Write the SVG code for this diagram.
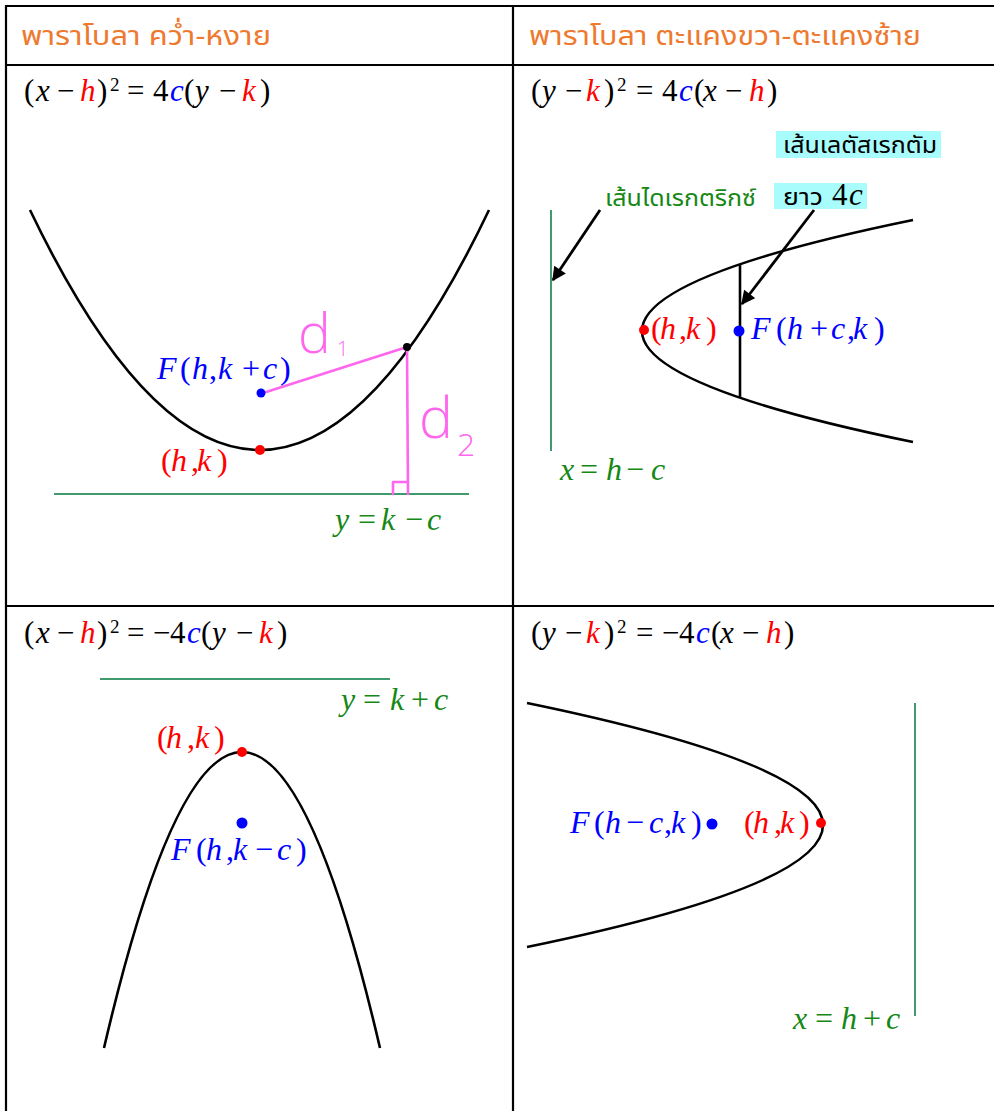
<svg xmlns="http://www.w3.org/2000/svg" width="994" height="1111" viewBox="0 0 994 1111">
<style>
.grid{stroke:#000;stroke-width:2.2;fill:none}
.curve{stroke:#000;stroke-width:2.6;fill:none}
.dir{stroke:#3f9b6d;stroke-width:2;fill:none}
.pk{stroke:#ff66ee;stroke-width:2.6;fill:none;stroke-linecap:round;stroke-linejoin:round}
.m{font-family:"Liberation Serif","Times New Roman",serif;font-size:31px;fill:#000}
.lbl{font-family:"Liberation Serif","Times New Roman",serif;font-size:32px}
.sup{font-size:19px}
.i{font-style:italic}
.r{fill:#ff0000}
.b{fill:#0000ff}
.g{fill:#168816}
.th{font-family:"Noto Sans Thai","Noto Sans Thai Looped","Noto Sans","DejaVu Sans",sans-serif}
.hd{font-size:27px;fill:#ee7a30}
.hw{font-family:"Open Sans","Lato","Liberation Sans",sans-serif;font-weight:300;fill:#ff66ee}
.arr{stroke:#000;stroke-width:2.8;fill:none}
</style>
<defs>
<marker id="ah" viewBox="0 0 10 10" refX="9" refY="5" markerWidth="5.5" markerHeight="5" orient="auto" markerUnits="strokeWidth">
<path d="M0,0 L10,5 L0,10 z" fill="#000"/>
</marker>
</defs>
<rect width="994" height="1111" fill="#fff"/>

<g id="table">
<line class="grid" x1="5" y1="6" x2="994" y2="6"/>
<line class="grid" x1="5" y1="65" x2="994" y2="65"/>
<line class="grid" x1="5" y1="606" x2="994" y2="606"/>
<line class="grid" x1="6" y1="5" x2="6" y2="1111"/>
<line class="grid" x1="513" y1="5" x2="513" y2="1111"/>
<text class="th hd" x="21" y="45" textLength="250" lengthAdjust="spacingAndGlyphs">พาราโบลา คว่ำ-หงาย</text>
<text class="th hd" x="529" y="45" textLength="392" lengthAdjust="spacingAndGlyphs">พาราโบลา ตะแคงขวา-ตะแคงซ้าย</text>
</g>

<g id="cell-up">
<text class="m" y="101"><tspan x="24">(</tspan><tspan class="i" x="36">x</tspan><tspan x="57">−</tspan><tspan class="i r" x="80">h</tspan><tspan x="97">)</tspan><tspan class="sup" x="110" y="91">2</tspan><tspan x="127" y="101">=</tspan><tspan x="153">4</tspan><tspan class="i b" x="170">c</tspan><tspan x="184">(</tspan><tspan class="i" x="195">y</tspan><tspan x="219">−</tspan><tspan class="i r" x="242">k</tspan><tspan x="260">)</tspan></text>
<path class="curve" d="M30,210 Q260,690 489,210"/>
<line class="dir" x1="54" y1="494" x2="469" y2="494"/>
<path class="pk" d="M263,393 L407,347 L408,494"/>
<path class="pk" d="M393,494 V482 H408"/>
<circle cx="407" cy="347" r="4" fill="#000"/>
<circle cx="261" cy="393" r="4.5" fill="#0000ff"/>
<circle cx="260" cy="450" r="5" fill="#ff0000"/>
<text class="hw" x="298" y="353" font-size="55">d</text>
<text class="hw" x="337" y="356" font-size="20">1</text>
<text class="hw" x="419" y="438" font-size="57">d</text>
<text class="hw" x="457" y="456" font-size="32">2</text>
<text class="lbl b" y="379"><tspan class="i" x="157">F</tspan><tspan x="180">(</tspan><tspan class="i" x="192">h</tspan><tspan x="209">,</tspan><tspan class="i" x="218">k</tspan><tspan x="242">+</tspan><tspan class="i" x="263">c</tspan><tspan x="280">)</tspan></text>
<text class="lbl r" y="471"><tspan x="161">(</tspan><tspan class="i" x="171">h</tspan><tspan x="191">,</tspan><tspan class="i" x="197">k</tspan><tspan x="217">)</tspan></text>
<text class="lbl g" y="530"><tspan class="i" x="335">y</tspan><tspan x="358">=</tspan><tspan class="i" x="381">k</tspan><tspan x="405">−</tspan><tspan class="i" x="427">c</tspan></text>
</g>

<g id="cell-right">
<text class="m" y="101"><tspan x="531">(</tspan><tspan class="i" x="542">y</tspan><tspan x="565">−</tspan><tspan class="i r" x="586">k</tspan><tspan x="604">)</tspan><tspan class="sup" x="617" y="91">2</tspan><tspan x="636" y="101">=</tspan><tspan x="662">4</tspan><tspan class="i b" x="679">c</tspan><tspan x="694">(</tspan><tspan class="i" x="703">x</tspan><tspan x="725">−</tspan><tspan class="i r" x="749">h</tspan><tspan x="767">)</tspan></text>
<rect x="776" y="131" width="165" height="27" fill="#a8fcfc"/>
<text class="th" x="783" y="153" font-size="23" fill="#000" textLength="154" lengthAdjust="spacingAndGlyphs">เส้นเลตัสเรกตัม</text>
<rect x="774" y="183" width="93" height="26" fill="#a8fcfc"/>
<text class="th" x="783" y="205" font-size="23" fill="#000" textLength="40" lengthAdjust="spacingAndGlyphs">ยาว</text>
<text class="m" y="205"><tspan x="832">4</tspan><tspan class="i" x="849">c</tspan></text>
<text class="th g" x="605" y="206" font-size="23" textLength="151" lengthAdjust="spacingAndGlyphs">เส้นไดเรกตริกซ์</text>
<line class="dir" x1="551" y1="210" x2="551" y2="451"/>
<path class="curve" d="M913,220 Q371,331 913,442"/>
<line x1="740" y1="265" x2="740" y2="398" stroke="#000" stroke-width="2.6"/>
<circle cx="644" cy="330" r="5" fill="#ff0000"/>
<circle cx="739" cy="331" r="5.5" fill="#0000ff"/>
<text class="lbl r" y="339"><tspan x="651">(</tspan><tspan class="i" x="660">h</tspan><tspan x="679">,</tspan><tspan class="i" x="686">k</tspan><tspan x="706">)</tspan></text>
<text class="lbl b" y="339"><tspan class="i" x="751">F</tspan><tspan x="776">(</tspan><tspan class="i" x="787">h</tspan><tspan x="810">+</tspan><tspan class="i" x="831">c</tspan><tspan x="847">,</tspan><tspan class="i" x="853">k</tspan><tspan x="874">)</tspan></text>
<text class="lbl g" y="480"><tspan class="i" x="560">x</tspan><tspan x="580">=</tspan><tspan class="i" x="606">h</tspan><tspan x="626">−</tspan><tspan class="i" x="651">c</tspan></text>
</g>

<g id="cell-down">
<text class="m" y="643"><tspan x="24">(</tspan><tspan class="i" x="36">x</tspan><tspan x="57">−</tspan><tspan class="i r" x="80">h</tspan><tspan x="97">)</tspan><tspan class="sup" x="110" y="633">2</tspan><tspan x="127" y="643">=</tspan><tspan x="153">−</tspan><tspan x="170">4</tspan><tspan class="i b" x="187">c</tspan><tspan x="201">(</tspan><tspan class="i" x="212">y</tspan><tspan x="236">−</tspan><tspan class="i r" x="259">k</tspan><tspan x="277">)</tspan></text>
<line class="dir" x1="100" y1="679" x2="390" y2="679"/>
<text class="lbl g" y="710"><tspan class="i" x="341">y</tspan><tspan x="363">=</tspan><tspan class="i" x="390">k</tspan><tspan x="411">+</tspan><tspan class="i" x="434">c</tspan></text>
<path class="curve" d="M104,1048 Q242,456 380,1048"/>
<circle cx="242" cy="752" r="5" fill="#ff0000"/>
<circle cx="242" cy="823" r="5.5" fill="#0000ff"/>
<text class="lbl r" y="748"><tspan x="157">(</tspan><tspan class="i" x="166">h</tspan><tspan x="187">,</tspan><tspan class="i" x="195">k</tspan><tspan x="214">)</tspan></text>
<text class="lbl b" y="860"><tspan class="i" x="171">F</tspan><tspan x="196">(</tspan><tspan class="i" x="206">h</tspan><tspan x="226">,</tspan><tspan class="i" x="233">k</tspan><tspan x="255">−</tspan><tspan class="i" x="277">c</tspan><tspan x="296">)</tspan></text>
</g>

<g id="cell-left">
<text class="m" y="643"><tspan x="531">(</tspan><tspan class="i" x="542">y</tspan><tspan x="565">−</tspan><tspan class="i r" x="586">k</tspan><tspan x="604">)</tspan><tspan class="sup" x="617" y="633">2</tspan><tspan x="636" y="643">=</tspan><tspan x="662">−</tspan><tspan x="679">4</tspan><tspan class="i b" x="696">c</tspan><tspan x="711">(</tspan><tspan class="i" x="720">x</tspan><tspan x="742">−</tspan><tspan class="i r" x="766">h</tspan><tspan x="784">)</tspan></text>
<path class="curve" d="M527,703 Q1119,825 527,947"/>
<line class="dir" x1="915" y1="703" x2="915" y2="1016"/>
<circle cx="821" cy="823" r="5" fill="#ff0000"/>
<circle cx="712" cy="824" r="5.5" fill="#0000ff"/>
<text class="lbl b" y="833"><tspan class="i" x="570">F</tspan><tspan x="594">(</tspan><tspan class="i" x="605">h</tspan><tspan x="626">−</tspan><tspan class="i" x="649">c</tspan><tspan x="664">,</tspan><tspan class="i" x="671">k</tspan><tspan x="691">)</tspan></text>
<text class="lbl r" y="833"><tspan x="744">(</tspan><tspan class="i" x="753">h</tspan><tspan x="774">,</tspan><tspan class="i" x="780">k</tspan><tspan x="799">)</tspan></text>
<text class="lbl g" y="1029"><tspan class="i" x="793">x</tspan><tspan x="815">=</tspan><tspan class="i" x="841">h</tspan><tspan x="863">+</tspan><tspan class="i" x="886">c</tspan></text>
</g>

<g id="connectors">
<line class="arr" x1="600" y1="210" x2="553" y2="280" marker-end="url(#ah)"/>
<line class="arr" x1="814" y1="210" x2="742" y2="304" marker-end="url(#ah)"/>
</g>
</svg>
